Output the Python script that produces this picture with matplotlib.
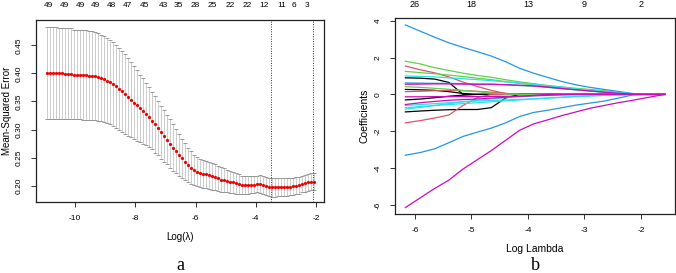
import numpy as np
import matplotlib
matplotlib.use("Agg")
import matplotlib.pyplot as plt

plt.rcParams['font.family'] = ['Liberation Sans', 'DejaVu Sans']

# ---- panel a: cross-validation curve ----
cv_start, cv_stop, cv_n = -10.95, -2.07, 90
cv_mean = [
    0.401, 0.401, 0.400, 0.400, 0.400, 0.400, 0.399, 0.399, 0.399, 0.398,
    0.398, 0.398, 0.397, 0.397, 0.396, 0.396, 0.395, 0.394, 0.392, 0.390,
    0.387, 0.385, 0.381, 0.377, 0.373, 0.368, 0.363, 0.358, 0.353, 0.348,
    0.343, 0.338, 0.333, 0.328, 0.322, 0.316, 0.309, 0.302, 0.295, 0.289,
    0.282, 0.275, 0.268, 0.262, 0.255, 0.249, 0.243, 0.237, 0.232, 0.228,
    0.225, 0.223, 0.221, 0.220, 0.219, 0.217, 0.215, 0.213, 0.211, 0.210,
    0.208, 0.207, 0.206, 0.204, 0.203, 0.201, 0.201, 0.201, 0.202, 0.202,
    0.203, 0.203, 0.201, 0.199, 0.197, 0.197, 0.197, 0.197, 0.197, 0.197,
    0.198, 0.198, 0.199, 0.200, 0.201, 0.203, 0.204, 0.206, 0.207, 0.207,
]
cv_se = [
    0.082, 0.082, 0.082, 0.082, 0.081, 0.081, 0.081, 0.081, 0.081, 0.080,
    0.080, 0.080, 0.080, 0.080, 0.079, 0.079, 0.078, 0.078, 0.077, 0.077,
    0.076, 0.075, 0.075, 0.074, 0.073, 0.072, 0.071, 0.069, 0.067, 0.065,
    0.063, 0.060, 0.058, 0.055, 0.053, 0.051, 0.050, 0.048, 0.047, 0.046,
    0.044, 0.043, 0.041, 0.039, 0.037, 0.035, 0.033, 0.031, 0.029, 0.027,
    0.026, 0.025, 0.025, 0.024, 0.024, 0.024, 0.023, 0.023, 0.022, 0.021,
    0.020, 0.020, 0.019, 0.018, 0.017, 0.016, 0.016, 0.016, 0.015, 0.015,
    0.015, 0.016, 0.016, 0.016, 0.016, 0.017, 0.017, 0.016, 0.016, 0.016,
    0.016, 0.015, 0.015, 0.015, 0.015, 0.015, 0.015, 0.015, 0.015, 0.015,
]
lambda_min, lambda_1se = -3.48, -2.09
nz_pos_a = [-10.9, -10.37, -9.84, -9.31, -8.78, -8.25, -7.69, -7.06, -6.56,
            -6.0, -5.44, -4.84, -4.28, -3.72, -3.12, -2.72, -2.29]
nz_lab_a = ["49", "49", "49", "49", "48", "47", "45", "43", "35",
            "28", "25", "22", "22", "12", "11", "6", "3"]

# ---- panel b: coefficient paths (drawn in this order) ----
path_x = [-6.17, -5.9, -5.65, -5.4, -5.15, -4.9, -4.65, -4.4, -4.15, -3.9,
          -3.65, -3.4, -3.15, -2.9, -2.65, -2.4, -2.15, -1.9, -1.58]
paths = [
    ("#000000", [0.90, 0.88, 0.83, 0.65, 0.0, 0.0, 0.0, 0.0, 0.0, 0.0,
                 0.0, 0.0, 0.0, 0.0, 0.0, 0.0, 0.0, 0.0, 0.0]),
    ("#000000", [0.27, 0.25, 0.22, 0.15, 0.05, 0.0, 0.0, 0.0, 0.0, 0.0,
                 0.0, 0.0, 0.0, 0.0, 0.0, 0.0, 0.0, 0.0, 0.0]),
    ("#000000", [-0.30, -0.25, -0.18, -0.10, -0.04, 0.0, 0.0, 0.0, 0.0, 0.0,
                 0.0, 0.0, 0.0, 0.0, 0.0, 0.0, 0.0, 0.0, 0.0]),
    ("#000000", [-0.95, -0.90, -0.86, -0.83, -0.82, -0.82, -0.72, -0.20, 0.0, 0.0,
                 0.0, 0.0, 0.0, 0.0, 0.0, 0.0, 0.0, 0.0, 0.0]),
    ("#DF536B", [1.54, 1.33, 1.17, 0.95, 0.67, 0.43, 0.22, 0.05, 0.0, 0.0,
                 0.0, 0.0, 0.0, 0.0, 0.0, 0.0, 0.0, 0.0, 0.0]),
    ("#DF536B", [0.15, 0.17, 0.20, 0.22, 0.20, 0.17, 0.12, 0.06, 0.0, 0.0,
                 0.0, 0.0, 0.0, 0.0, 0.0, 0.0, 0.0, 0.0, 0.0]),
    ("#DF536B", [-1.54, -1.42, -1.28, -1.12, -0.60, -0.18, 0.0, 0.0, 0.0, 0.0,
                 0.0, 0.0, 0.0, 0.0, 0.0, 0.0, 0.0, 0.0, 0.0]),
    ("#61D04F", [0.42, 0.38, 0.33, 0.28, 0.22, 0.15, 0.08, 0.02, 0.0, 0.0,
                 0.0, 0.0, 0.0, 0.0, 0.0, 0.0, 0.0, 0.0, 0.0]),
    ("#61D04F", [1.80, 1.65, 1.45, 1.30, 1.15, 1.03, 0.93, 0.80, 0.68, 0.58,
                 0.48, 0.40, 0.33, 0.27, 0.20, 0.10, 0.02, 0.0, 0.0]),
    ("#61D04F", [1.25, 1.18, 1.12, 1.05, 0.97, 0.88, 0.80, 0.70, 0.60, 0.52,
                 0.45, 0.36, 0.28, 0.20, 0.12, 0.05, 0.0, 0.0, 0.0]),
    ("#2297E6", [3.77, 3.42, 3.10, 2.80, 2.55, 2.32, 2.08, 1.78, 1.42, 1.15,
                 0.92, 0.70, 0.52, 0.38, 0.27, 0.16, 0.05, 0.0, 0.0]),
    ("#2297E6", [-3.30, -3.15, -2.95, -2.62, -2.28, -2.05, -1.83, -1.55, -1.20, -0.98,
                 -0.86, -0.72, -0.58, -0.47, -0.36, -0.20, -0.03, 0.0, 0.0]),
    ("#2297E6", [0.62, 0.61, 0.60, 0.60, 0.58, 0.56, 0.55, 0.52, 0.48, 0.45,
                 0.38, 0.31, 0.25, 0.18, 0.12, 0.08, 0.03, 0.0, 0.0]),
    ("#28E2E5", [1.00, 0.98, 0.95, 0.90, 0.85, 0.80, 0.75, 0.68, 0.62, 0.55,
                 0.47, 0.40, 0.30, 0.22, 0.15, 0.10, 0.04, 0.0, 0.0]),
    ("#28E2E5", [-0.60, -0.55, -0.50, -0.45, -0.40, -0.36, -0.33, -0.30, -0.27, -0.24,
                 -0.20, -0.16, -0.12, -0.09, -0.06, -0.03, 0.0, 0.0, 0.0]),
    ("#28E2E5", [-0.72, -0.66, -0.60, -0.55, -0.50, -0.45, -0.40, -0.35, -0.30, -0.25,
                 -0.20, -0.15, -0.10, -0.07, -0.04, -0.02, 0.0, 0.0, 0.0]),
    ("#28E2E5", [-0.80, -0.70, -0.60, -0.50, -0.40, -0.32, -0.25, -0.18, -0.12, -0.07,
                 -0.03, 0.0, 0.0, 0.0, 0.0, 0.0, 0.0, 0.0, 0.0]),
    ("#CD0BBC", [-0.55, -0.45, -0.38, -0.32, -0.28, -0.25, -0.20, -0.15, -0.10, -0.05,
                 0.0, 0.0, 0.0, 0.0, 0.0, 0.0, 0.0, 0.0, 0.0]),
    ("#CD0BBC", [-0.13, -0.13, -0.12, -0.12, -0.12, -0.12, -0.11, -0.11, -0.10, -0.08,
                 -0.05, -0.02, 0.0, 0.0, 0.0, 0.0, 0.0, 0.0, 0.0]),
    ("#CD0BBC", [0.55, 0.56, 0.57, 0.57, 0.56, 0.55, 0.55, 0.53, 0.50, 0.46,
                 0.40, 0.32, 0.25, 0.19, 0.12, 0.06, 0.02, 0.0, 0.0]),
    ("#CD0BBC", [-6.14, -5.60, -5.10, -4.65, -4.05, -3.55, -3.05, -2.50, -1.95, -1.60,
                 -1.38, -1.15, -0.95, -0.75, -0.60, -0.45, -0.32, -0.18, 0.0]),
]
nz_pos_b = [-6, -5, -4, -3, -2]
nz_lab_b = ["26", "18", "13", "9", "2"]

FS = 6


def style_axes(ax):
    for s in ax.spines.values():
        s.set_linewidth(0.9)
        s.set_color("#222222")
    ax.tick_params(direction="out", length=3.5, width=0.7, labelsize=FS,
                   color="#333333", pad=6)
    for t in ax.get_yticklabels():
        t.set_rotation(90)
        t.set_va("center")


fig = plt.figure(figsize=(6.76, 2.73), dpi=100)

# panel a
ax1 = fig.add_axes([0.0533, 0.26, 0.4260, 0.6667])
x_cv = np.linspace(cv_start, cv_stop, cv_n)
mean = np.array(cv_mean)
se = np.array(cv_se)
ax1.vlines(x_cv, mean - se, mean + se, color="#c4c4c4", lw=0.6)
ax1.plot(x_cv, mean + se, ls="none", marker="_", ms=3.5, mew=0.6, color="#8a8a8a")
ax1.plot(x_cv, mean - se, ls="none", marker="_", ms=3.5, mew=0.6, color="#8a8a8a")
ax1.plot(x_cv, mean, ls="none", marker="o", ms=2.3, mec="none", color="#ee0000")
ax1.axvline(lambda_min, color="#333333", lw=0.7, ls=(0, (1, 1.5)))
ax1.axvline(lambda_1se, color="#333333", lw=0.7, ls=(0, (1, 1.5)))
ax1.set_xlim(-11.3, -1.73)
ax1.set_ylim(0.171, 0.495)
ax1.set_xticks([-10, -8, -6, -4, -2])
ax1.set_xticklabels(["-10", "-8", "-6", "-4", "-2"])
ax1.set_yticks([0.20, 0.25, 0.30, 0.35, 0.40, 0.45])
ax1.set_yticklabels(["0.20", "0.25", "0.30", "0.35", "0.40", "0.45"])
style_axes(ax1)
ax1.set_xlabel("Log(\u03bb)", fontsize=7, labelpad=7)
ax1.set_ylabel("Mean-Squared Error", fontsize=7, labelpad=3)
top1 = ax1.twiny()
top1.set_xlim(ax1.get_xlim())
top1.set_xticks(nz_pos_a)
top1.set_xticklabels(nz_lab_a)
top1.tick_params(length=0, labelsize=FS, pad=8)
for s in top1.spines.values():
    s.set_visible(False)

# panel b
ax2 = fig.add_axes([0.5843, 0.2161, 0.4142, 0.7169])
for color, vals in paths:
    ax2.plot(path_x, vals, color=color, lw=0.9)
ax2.set_xlim(-6.354, -1.398)
ax2.set_ylim(-6.49, 4.13)
ax2.set_xticks([-6, -5, -4, -3, -2])
ax2.set_xticklabels(["-6", "-5", "-4", "-3", "-2"])
ax2.set_yticks([-6, -4, -2, 0, 2, 4])
ax2.set_yticklabels(["-6", "-4", "-2", "0", "2", "4"])
style_axes(ax2)
ax2.set_xlabel("Log Lambda", fontsize=7.5, labelpad=7)
ax2.set_ylabel("Coefficients", fontsize=7.5, labelpad=4)
top2 = ax2.twiny()
top2.set_xlim(ax2.get_xlim())
top2.set_xticks(nz_pos_b)
top2.set_xticklabels(nz_lab_b)
top2.tick_params(length=0, labelsize=FS + 0.5, pad=7)
for s in top2.spines.values():
    s.set_visible(False)

fig.text(180 / 676, 1 - 266 / 273, "a", ha="center", va="center",
         fontsize=13, family="Liberation Serif")
fig.text(535 / 676, 1 - 266 / 273, "b", ha="center", va="center",
         fontsize=13, family="Liberation Serif")

fig.savefig("out.png", dpi=100)
